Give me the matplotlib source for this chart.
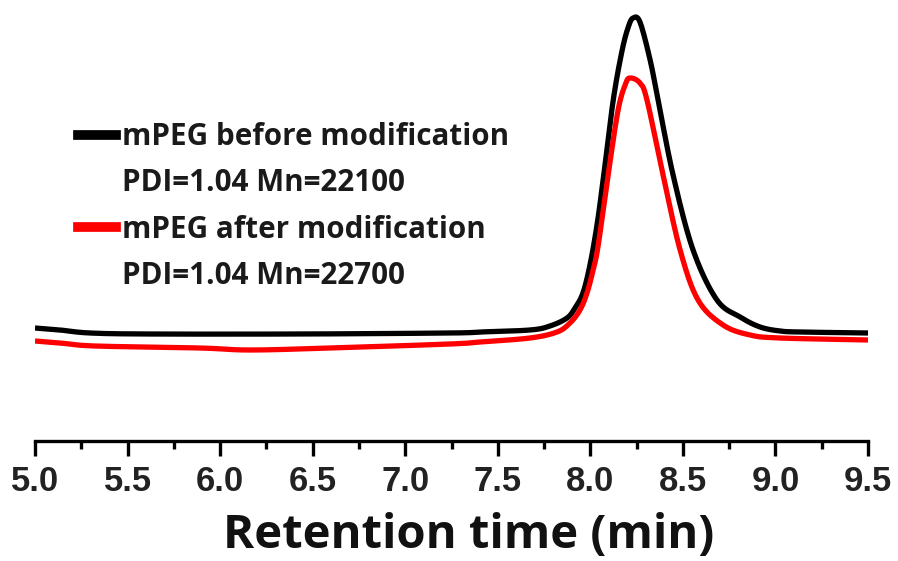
import numpy as np
import matplotlib
matplotlib.use('Agg')
import matplotlib.pyplot as plt
from matplotlib.lines import Line2D
from matplotlib.ticker import MultipleLocator

# GPC traces (time in min, detector signal in arb. units)
t_before = [5.00, 5.135, 5.297, 5.621, 6.432, 7.242, 7.404, 7.674, 7.782, 7.874,
            7.917, 7.960, 7.998, 8.036, 8.069, 8.123, 8.171, 8.205, 8.231, 8.268,
            8.323, 8.366, 8.447, 8.555, 8.684, 8.809, 8.917, 9.025, 9.133, 9.500]
s_before = [113, 111, 108, 107, 107, 108, 109, 111, 115, 123,
            133, 148, 176, 216, 261, 340, 390, 414, 423, 419,
            381, 341, 266, 191, 141, 124, 114, 110, 109, 108]

t_after = [5.00, 5.135, 5.324, 5.891, 6.162, 6.594, 7.242, 7.404, 7.674, 7.820,
           7.890, 7.944, 7.982, 8.015, 8.042, 8.096, 8.150, 8.190, 8.215, 8.268,
           8.306, 8.393, 8.485, 8.582, 8.717, 8.863, 9.025, 9.500]
s_after = [100, 98, 95, 93, 91, 93, 97, 99, 103, 109,
           118, 131, 148, 171, 195, 266, 331, 357, 363, 358,
           341, 266, 191, 141, 116, 106, 103, 101]

label_before = 'mPEG before modification'
info_before = 'PDI=1.04 Mn=22100'
label_after = 'mPEG after modification'
info_after = 'PDI=1.04 Mn=22700'
xticks = np.arange(5.0, 9.51, 0.5)


def smooth(x, y, n=20):
    # Catmull-Rom through the read points
    x = np.asarray(x, float)
    y = np.asarray(y, float)
    px = np.concatenate([[2 * x[0] - x[1]], x, [2 * x[-1] - x[-2]]])
    py = np.concatenate([[2 * y[0] - y[1]], y, [2 * y[-1] - y[-2]]])
    xs, ys = [], []
    u = np.linspace(0, 1, n, endpoint=False)
    for i in range(1, len(px) - 2):
        for arr, out in ((px, xs), (py, ys)):
            p0, p1, p2, p3 = arr[i - 1], arr[i], arr[i + 1], arr[i + 2]
            out.extend(0.5 * (2 * p1 + (-p0 + p2) * u
                              + (2 * p0 - 5 * p1 + 4 * p2 - p3) * u ** 2
                              + (-p0 + 3 * p1 - 3 * p2 + p3) * u ** 3))
    xs.append(x[-1])
    ys.append(y[-1])
    return np.array(xs), np.array(ys)


fig = plt.figure(figsize=(8.98, 5.61), dpi=100)
ax = fig.add_axes([35 / 898, 1 - 441 / 561, 833 / 898, 441 / 561])

xb, yb = smooth(t_before, s_before)
xa, ya = smooth(t_after, s_after)
ax.plot(xb, yb, color='black', lw=3.8, solid_capstyle='butt')
ax.plot(xa, ya, color='#ff0000', lw=3.8, solid_capstyle='butt')

ax.set_xlim(5.0, 9.5)
ax.set_ylim(0, 441)
for s in ['top', 'left', 'right']:
    ax.spines[s].set_visible(False)
ax.spines['bottom'].set_linewidth(2.4)
ax.set_yticks([])
ax.set_xticks(xticks, [f'{v:.1f}' for v in xticks])
ax.xaxis.set_minor_locator(MultipleLocator(0.25))
ax.tick_params(axis='x', which='major', direction='out', length=11, width=2.4, pad=6,
               labelsize=25, labelcolor='#222222')
ax.tick_params(axis='x', which='minor', direction='out', length=6, width=2.4)
for lab in ax.get_xticklabels():
    lab.set_fontfamily('Liberation Sans')
    lab.set_fontweight('bold')
ax.set_xlabel('Retention time (min)', fontfamily='Open Sans', fontweight='bold',
              fontsize=34, labelpad=10, color='#111111')
ax.xaxis.label.set_x(0.52)

blank = Line2D([], [], color='none')
handles = [Line2D([], [], color='black', lw=7), blank,
           Line2D([], [], color='#ff0000', lw=7), blank]
labels = [label_before, info_before, label_after, info_after]
leg = ax.legend(handles, labels, loc='upper left',
                bbox_to_anchor=(43 / 833, 1 - 122 / 441),
                frameon=False, handlelength=1.3, handletextpad=0.2, labelspacing=0.55,
                borderpad=0, borderaxespad=0,
                prop={'family': 'Open Sans', 'weight': 'bold', 'size': 21.3})
for txt in leg.get_texts():
    txt.set_color('#1a1a1a')

fig.savefig('out.png', dpi=100)
